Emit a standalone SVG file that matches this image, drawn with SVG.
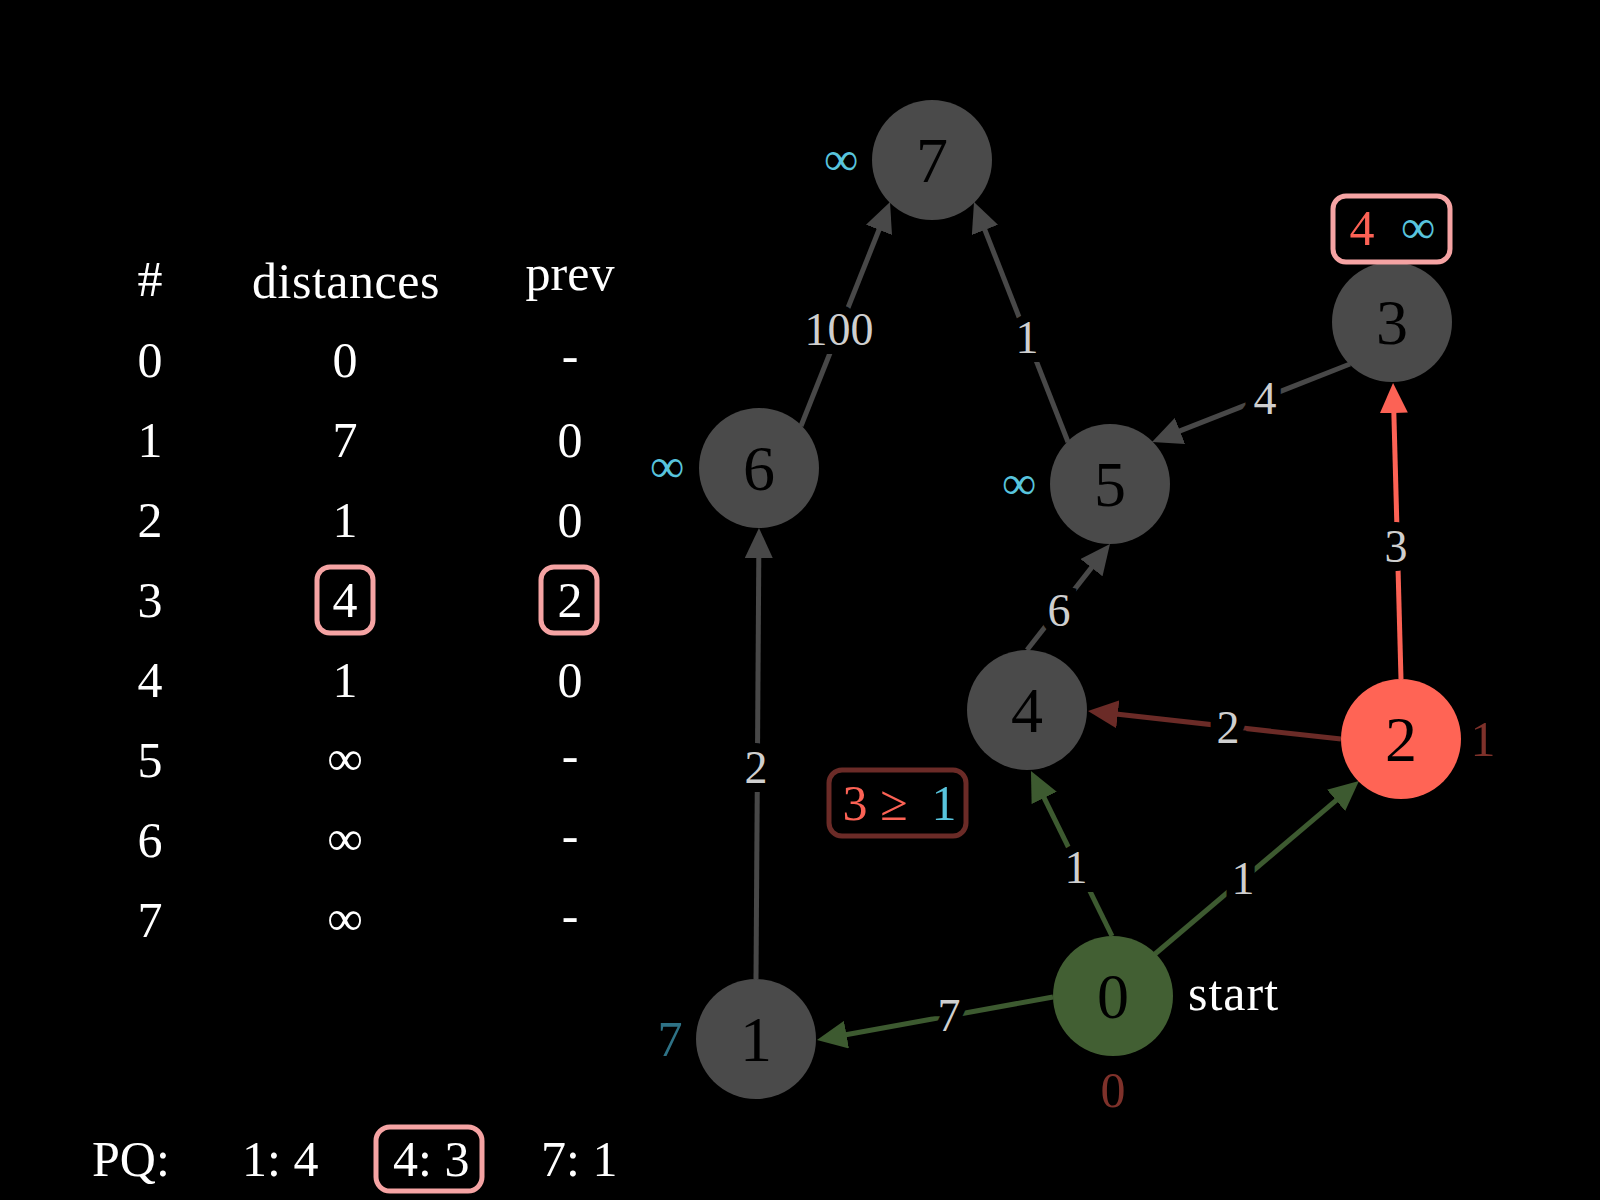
<svg xmlns="http://www.w3.org/2000/svg" width="1600" height="1200" viewBox="0 0 1600 1200">
<defs>
<style>
text{font-family:"Liberation Serif","Times New Roman",serif;}
.t{fill:#ffffff;font-size:50px;text-anchor:middle;}
.ts{fill:#ffffff;font-size:50px;}
.nl{fill:#000000;font-size:64px;text-anchor:middle;}
.el{fill:#cfcfcf;font-size:46px;text-anchor:middle;stroke:#000000;stroke-width:18px;stroke-linejoin:miter;paint-order:stroke;}
.inf{fill:#58c4dd;font-size:48px;text-anchor:middle;}
.edge{fill:none;stroke-width:5;}
.gray{stroke:#484848;}
.green{stroke:#3d5a30;}
.red{stroke:#fc6255;}
.dred{stroke:#6b2b27;}
.box{fill:none;stroke:#f5a3a3;stroke-width:5;}
.node{fill:#4a4a4a;}
</style>
<marker id="ag" viewBox="0 0 30 28" refX="2" refY="14" markerWidth="30" markerHeight="28" markerUnits="userSpaceOnUse" orient="auto"><path d="M0,0 L30,14 L0,28 Z" fill="#484848"/></marker>
<marker id="agr" viewBox="0 0 30 28" refX="2" refY="14" markerWidth="30" markerHeight="28" markerUnits="userSpaceOnUse" orient="auto"><path d="M0,0 L30,14 L0,28 Z" fill="#3d5a30"/></marker>
<marker id="ar" viewBox="0 0 30 28" refX="2" refY="14" markerWidth="30" markerHeight="28" markerUnits="userSpaceOnUse" orient="auto"><path d="M0,0 L30,14 L0,28 Z" fill="#fc6255"/></marker>
<marker id="adr" viewBox="0 0 30 28" refX="2" refY="14" markerWidth="30" markerHeight="28" markerUnits="userSpaceOnUse" orient="auto"><path d="M0,0 L30,14 L0,28 Z" fill="#6b2b27"/></marker>
</defs>
<rect x="0" y="0" width="1600" height="1200" fill="#000000"/>

<g id="table">
<text class="t" x="150" y="296">#</text>
<text class="t" x="346" y="298" letter-spacing="0.5">distances</text>
<text class="t" x="570" y="290">prev</text>
<text class="t" x="150" y="377">0</text><text class="t" x="345" y="377">0</text><text class="t" x="570" y="372">-</text>
<text class="t" x="150" y="457">1</text><text class="t" x="345" y="457">7</text><text class="t" x="570" y="457">0</text>
<text class="t" x="150" y="537">2</text><text class="t" x="345" y="537">1</text><text class="t" x="570" y="537">0</text>
<text class="t" x="150" y="617">3</text><text class="t" x="345" y="617">4</text><text class="t" x="570" y="617">2</text>
<rect class="box" x="317" y="567" width="56" height="66" rx="13"/>
<rect class="box" x="541" y="567" width="56" height="66" rx="13"/>
<text class="t" x="150" y="697">4</text><text class="t" x="345" y="697">1</text><text class="t" x="570" y="697">0</text>
<text class="t" x="150" y="777">5</text><text class="t" x="345" y="775">∞</text><text class="t" x="570" y="772">-</text>
<text class="t" x="150" y="857">6</text><text class="t" x="345" y="855">∞</text><text class="t" x="570" y="852">-</text>
<text class="t" x="150" y="937">7</text><text class="t" x="345" y="935">∞</text><text class="t" x="570" y="932">-</text>
</g>

<g id="pq">
<text class="ts" x="92" y="1176">PQ:</text>
<text class="ts" x="242" y="1176">1: 4</text>
<text class="ts" x="393" y="1176">4: 3</text>
<text class="ts" x="541" y="1176">7: 1</text>
<rect class="box" x="376" y="1127" width="106" height="64" rx="14"/>
</g>

<g id="connectors">
<path class="edge green" d="M1053,997 L844.5,1035" marker-end="url(#agr)"/>
<path class="edge green" d="M1112,936 L1043.3,796.1" marker-end="url(#agr)"/>
<path class="edge green" d="M1155,954 L1337.6,799.1" marker-end="url(#agr)"/>
<path class="edge dred" d="M1341,739 L1115.8,714.1" marker-end="url(#adr)"/>
<path class="edge red" d="M1401,679 L1393.8,411" marker-end="url(#ar)"/>
<path class="edge gray" d="M1350,364 L1178.1,431.7" marker-end="url(#ag)"/>
<path class="edge gray" d="M1027,650 L1092.7,566.1" marker-end="url(#ag)"/>
<path class="edge gray" d="M1068,442 L984.2,228.1" marker-end="url(#ag)"/>
<path class="edge gray" d="M801,426 L879.7,228" marker-end="url(#ag)"/>
<path class="edge gray" d="M756,979 L758.8,556" marker-end="url(#ag)"/>
<text class="el" x="949" y="1031">7</text>
<text class="el" x="1076" y="883">1</text>
<text class="el" x="1243" y="894">1</text>
<text class="el" x="1228" y="743">2</text>
<text class="el" x="1396" y="562">3</text>
<text class="el" x="1265" y="414">4</text>
<text class="el" x="1059" y="626">6</text>
<text class="el" x="1027" y="353">1</text>
<text class="el" x="839" y="345">100</text>
<text class="el" x="756" y="783">2</text>
</g>

<g id="node0">
<circle cx="1113" cy="996" r="60" fill="#425f33"/>
<text class="nl" x="1113" y="1018">0</text>
<text class="ts" x="1188" y="1010" letter-spacing="1">start</text>
<text class="t" x="1113" y="1107" style="fill:#7e312a">0</text>
</g>
<g id="node1">
<circle class="node" cx="756" cy="1039" r="60"/>
<text class="nl" x="756" y="1061">1</text>
<text class="t" x="670" y="1056" style="fill:#2e7286">7</text>
</g>
<g id="node2">
<circle cx="1401" cy="739" r="60" fill="#ff6455"/>
<text class="nl" x="1401" y="761">2</text>
<text class="t" x="1483" y="756" style="fill:#7e312a">1</text>
</g>
<g id="node3">
<circle class="node" cx="1392" cy="322" r="60"/>
<text class="nl" x="1392" y="344">3</text>
<rect class="box" x="1333" y="196" width="117" height="66" rx="13"/>
<text class="t" x="1362" y="245" style="fill:#fc6255">4</text>
<text class="inf" x="1418" y="243">∞</text>
</g>
<g id="node4">
<circle class="node" cx="1027" cy="710" r="60"/>
<text class="nl" x="1027" y="732">4</text>
</g>
<g id="node5">
<circle class="node" cx="1110" cy="484" r="60"/>
<text class="nl" x="1110" y="506">5</text>
<text class="inf" x="1019" y="499">∞</text>
</g>
<g id="node6">
<circle class="node" cx="759" cy="468" r="60"/>
<text class="nl" x="759" y="490">6</text>
<text class="inf" x="667" y="482">∞</text>
</g>
<g id="node7">
<circle class="node" cx="932" cy="160" r="60"/>
<text class="nl" x="932" y="182">7</text>
<text class="inf" x="841" y="175">∞</text>
</g>

<g id="compare">
<rect x="829" y="770" width="137" height="66" rx="13" fill="none" stroke="#6b2b27" stroke-width="5"/>
<text class="t" x="855" y="820" style="fill:#fc6255">3</text>
<text class="t" x="894" y="820" style="fill:#fc6255">≥</text>
<text class="t" x="944" y="820" style="fill:#58c4dd">1</text>
</g>
</svg>
